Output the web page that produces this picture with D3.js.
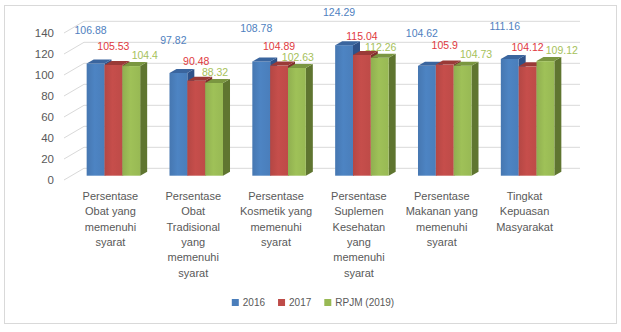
<!DOCTYPE html>
<html>
<head>
<meta charset="utf-8">
<script src="https://cdn.jsdelivr.net/npm/d3@7/dist/d3.min.js"></script>
<style>
    html, body { margin: 0; padding: 0; background: #fff; }
    svg { display: block; font-family: "Liberation Sans", Arial, sans-serif; }
</style>
</head>
<body>
<div id="chart"></div>
<script>
// 데이터
const categories = [
    ['Persentase', 'Obat yang', 'memenuhi', 'syarat'],
    ['Persentase', 'Obat', 'Tradisional', 'yang', 'memenuhi', 'syarat'],
    ['Persentase', 'Kosmetik yang', 'memenuhi', 'syarat'],
    ['Persentase', 'Suplemen', 'Kesehatan', 'yang', 'memenuhi', 'syarat'],
    ['Persentase', 'Makanan yang', 'memenuhi', 'syarat'],
    ['Tingkat', 'Kepuasan', 'Masyarakat']
];
const seriesNames = ['2016', '2017', 'RPJM (2019)'];
const values2016 = [106.88, 97.82, 108.78, 124.29, 104.62, 111.16];
const values2017 = [105.53, 90.48, 104.89, 115.04, 105.9, 104.12];
const valuesRpjm = [104.4, 88.32, 102.63, 112.26, 104.73, 109.12];
const yTicks = [0, 20, 40, 60, 80, 100, 120, 140];

const seriesValues = [values2016, values2017, valuesRpjm];

// 스타일
const faceColors = ['#4A7EBB', '#BE4B48', '#98B954'];
const topColors = ['#3A659E', '#9A3A37', '#7A9640'];
const sideColors = ['#2F5289', '#7F2F2D', '#5F7530'];
const labelColors = ['#4F7FC0', '#E0393E', '#A6C15A'];
const labelOffset = [{ dx: -5, dy: -33 }, { dx: 0, dy: -19 }, { dx: 1, dy: -11 }];

const W = 621, H = 332;
const wallDx = 20, wallDy = -11.7;   // 앞 → 뒤 벽 이동
const barDx = 7, barDy = -4;          // 막대 깊이

const svg = d3.select('#chart').append('svg')
    .attr('width', W)
    .attr('height', H);

// 차트 테두리
svg.append('rect')
    .attr('x', 4.5).attr('y', 5.5)
    .attr('width', 612).attr('height', 318)
    .attr('fill', '#fff')
    .attr('stroke', '#D9D9D9');

// Scale (앞쪽 면 기준)
const yFront = d3.scaleLinear().domain([0, 140]).range([180, 33]);
const yBar = v => yFront(v) - 4.3;

const xBand = d3.scaleBand()
    .domain(d3.range(categories.length))
    .range([72, 569])
    .paddingInner(0.354)
    .paddingOuter(0.177);

const xSub = d3.scaleBand()
    .domain(d3.range(seriesNames.length))
    .range([0, xBand.bandwidth()]);

// 격자선 (뒤 벽 + 옆 벽)
const wallLeft = 64, wallRight = 560;
const grid = svg.append('g').attr('stroke', '#D9D9D9').attr('stroke-width', 1);
yTicks.forEach(t => {
    const yf = yFront(t);
    grid.append('line')
        .attr('x1', wallLeft).attr('y1', yf)
        .attr('x2', wallLeft + wallDx).attr('y2', yf + wallDy);
    grid.append('line')
        .attr('x1', wallLeft + wallDx).attr('y1', yf + wallDy)
        .attr('x2', wallRight + wallDx).attr('y2', yf + wallDy);
});

// Y축
const yAxis = svg.append('g')
    .attr('transform', 'translate(58,0)')
    .call(d3.axisLeft(yFront).tickValues(yTicks).tickSize(0).tickPadding(4));
yAxis.select('.domain').remove();
yAxis.selectAll('text')
    .attr('fill', '#595959')
    .style('font-size', '11.5px');

// 그라데이션
const defs = svg.append('defs');
faceColors.forEach((c, i) => {
    const g = defs.append('linearGradient')
        .attr('id', 'face' + i)
        .attr('x1', '0').attr('x2', '1').attr('y1', '0').attr('y2', '0');
    g.append('stop').attr('offset', '0%').attr('stop-color', d3.color(c).darker(0.15));
    g.append('stop').attr('offset', '45%').attr('stop-color', d3.color(c).brighter(0.12));
    g.append('stop').attr('offset', '100%').attr('stop-color', c);
});

// 막대 (3D)
const bars = svg.append('g');
categories.forEach((cat, ci) => {
    seriesValues.forEach((vals, si) => {
        const v = vals[ci];
        const x0 = xBand(ci) + xSub(si);
        const w = xSub.bandwidth();
        const x1 = x0 + w;
        const top = yBar(v);
        const bot = yBar(0);

        bars.append('polygon')
            .attr('points', [[x1, top], [x1 + barDx, top + barDy], [x1 + barDx, bot + barDy], [x1, bot]].join(' '))
            .attr('fill', sideColors[si]);
        bars.append('rect')
            .attr('x', x0).attr('y', top)
            .attr('width', w).attr('height', bot - top)
            .attr('fill', `url(#face${si})`);
        bars.append('polygon')
            .attr('points', [[x0, top], [x0 + barDx, top + barDy], [x1 + barDx, top + barDy], [x1, top]].join(' '))
            .attr('fill', topColors[si]);
    });
});

// 데이터 레이블 (겹치면 오른쪽으로 밀기)
const labels = svg.append('g').style('font-size', '10.5px').attr('text-anchor', 'middle');
categories.forEach((cat, ci) => {
    const placed = [];
    seriesValues.forEach((vals, si) => {
        const v = vals[ci];
        const cx = xBand(ci) + xSub(si) + xSub.bandwidth() / 2;
        const t = labels.append('text')
            .attr('x', cx + labelOffset[si].dx)
            .attr('y', yBar(v) + labelOffset[si].dy)
            .attr('dy', '0.35em')
            .attr('fill', labelColors[si])
            .text(String(v));
        let b = t.node().getBBox();
        placed.forEach(p => {
            const overlapY = b.y < p.y + p.height - 2 && p.y < b.y + b.height - 2;
            const overlapX = b.x < p.x + p.width && p.x < b.x + b.width;
            if (overlapX && overlapY) {
                const shift = p.x + p.width + 2 - b.x;
                t.attr('x', +t.attr('x') + shift);
                b = t.node().getBBox();
            }
        });
        placed.push(b);
    });
});

// 카테고리 레이블
const catLabels = svg.append('g')
    .style('font-size', '11px')
    .attr('fill', '#595959')
    .attr('text-anchor', 'middle');
categories.forEach((lines, ci) => {
    const cx = xBand(ci) + xBand.bandwidth() / 2 - 3;
    const t = catLabels.append('text')
        .attr('x', cx)
        .attr('y', 200);
    lines.forEach((ln, li) => {
        t.append('tspan')
            .attr('x', cx)
            .attr('dy', li === 0 ? 0 : 15.3)
            .text(ln);
    });
});

// 범례
const legend = svg.append('g').style('font-size', '10px');
let lx = 0;
seriesNames.forEach((name, i) => {
    const item = legend.append('g').attr('transform', `translate(${lx},0)`);
    item.append('rect')
        .attr('x', 0).attr('y', -6)
        .attr('width', 7).attr('height', 7)
        .attr('fill', faceColors[i]);
    const txt = item.append('text')
        .attr('x', 11).attr('y', 0)
        .attr('dy', '0.1em')
        .attr('fill', '#595959')
        .text(name);
    lx += 11 + txt.node().getComputedTextLength() + 13;
});
const legendWidth = lx - 13;
legend.attr('transform', `translate(${313 - legendWidth / 2},305)`);
</script>
</body>
</html>
